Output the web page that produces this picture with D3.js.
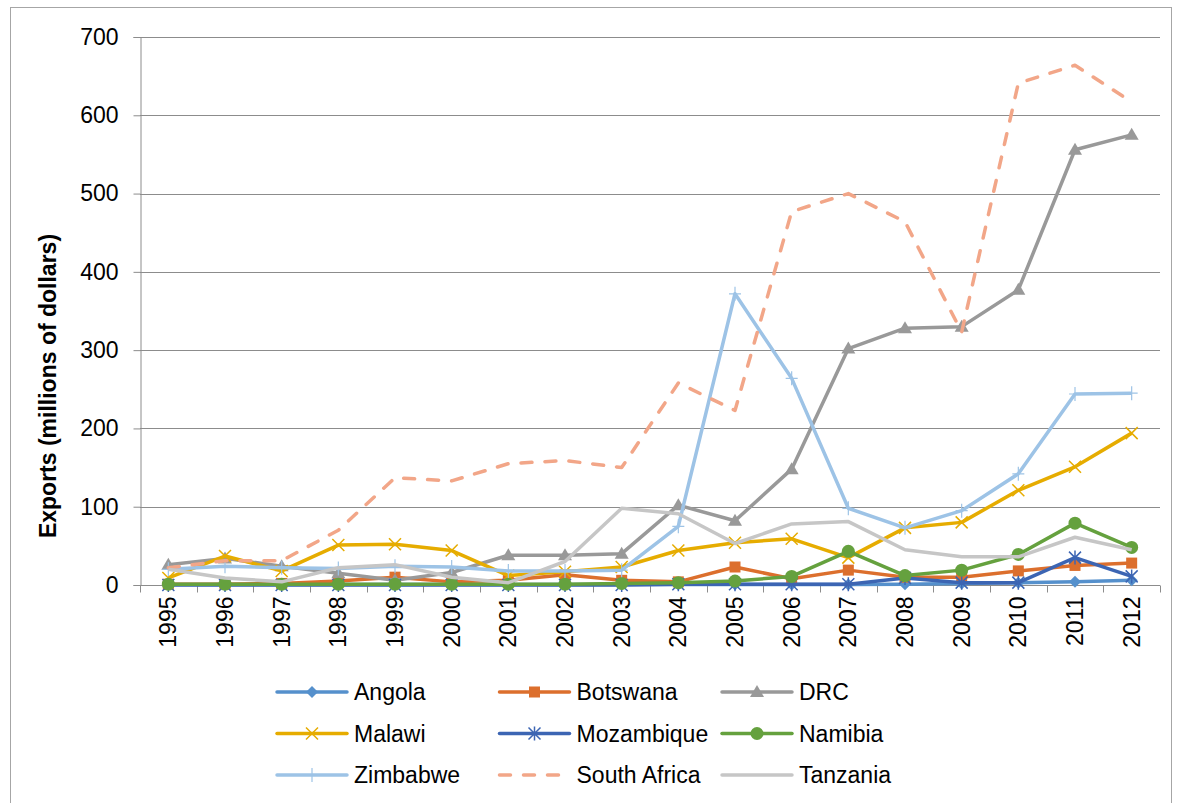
<!DOCTYPE html>
<html>
<head>
<meta charset="utf-8">
<script src="https://cdn.jsdelivr.net/npm/d3@7"></script>
<style>
  body { margin: 0; background: #fff; }
  text { font-family: "Liberation Sans", Arial, sans-serif; }
</style>
</head>
<body>
<div id="chart"></div>
<script>
// data
var years = ["1995","1996","1997","1998","1999","2000","2001","2002","2003",
             "2004","2005","2006","2007","2008","2009","2010","2011","2012"];
var yTicks = [0, 100, 200, 300, 400, 500, 600, 700];

var angola      = [0.5,0.5,0.5,0.5,0.5,0.5,0.5,0.5,0.5,0.5,0.5,0.5,0.5,1,2,3,4,6];
var botswana    = [1,1,2,5,10,4,6,13,6,4,23,8,19,10,10,18,25,28];
var drc         = [26,34,24,15,6,16,38,38,40,102,82,148,302,328,330,377,556,575];
var malawi      = [9,37,18,51,52,44,12,17,23,44,54,59,35,73,80,121,151,194];
var mozambique  = [0,0,0,0,0,0,0,0,0,1,1,1,1,9,3,3,35,11];
var namibia     = [1,1,1,1,1,1,1,1,2,3,5,11,43,12,19,39,79,48];
var zimbabwe    = [20,24,22,21,24,23,18,18,19,75,372,264,98,73,95,142,244,245];
var southAfrica = [22,31,31,70,137,133,155,159,150,258,223,477,500,464,323,641,664,617];
var tanzania    = [20,9,4,22,26,10,3,30,98,91,53,78,81,45,36,36,61,45];

var series = [
  {name: "Angola",       values: angola,      color: "#5590cc", marker: "diamond"},
  {name: "Botswana",     values: botswana,    color: "#dc6f2d", marker: "square"},
  {name: "DRC",          values: drc,         color: "#999999", marker: "triangle"},
  {name: "Malawi",       values: malawi,      color: "#e6ac00", marker: "x"},
  {name: "Mozambique",   values: mozambique,  color: "#3c65b3", marker: "star"},
  {name: "Namibia",      values: namibia,     color: "#65a13e", marker: "circle"},
  {name: "Zimbabwe",     values: zimbabwe,    color: "#9dc3e6", marker: "plus"},
  {name: "South Africa", values: southAfrica, color: "#f2a688", marker: "none", dash: true},
  {name: "Tanzania",     values: tanzania,    color: "#c6c6c6", marker: "none"}
];

// set the dimensions and margins of the graph
var W = 1182, H = 803;
var margin = {top: 37, right: 22, bottom: 218, left: 140},
    width = W - margin.left - margin.right,
    height = H - margin.top - margin.bottom;

var svg = d3.select("#chart")
  .append("svg")
    .attr("width", W)
    .attr("height", H);

// outer chart border
svg.append("rect")
    .attr("x", 10.5).attr("y", 7.5)
    .attr("width", 1161).attr("height", 820)
    .attr("fill", "none")
    .attr("stroke", "#a6a6a6");

var g = svg.append("g")
    .attr("transform", "translate(" + margin.left + "," + margin.top + ")");

var x = d3.scaleBand()
    .domain(years)
    .range([0, width]);

var y = d3.scaleLinear()
    .domain([0, 700])
    .range([height, 0]);

// gridlines
g.append("g")
  .selectAll("line")
  .data(yTicks.filter(function(d) { return d > 0; }))
  .enter()
  .append("line")
    .attr("x1", 0).attr("x2", width)
    .attr("y1", function(d) { return Math.round(y(d)) + 0.5; })
    .attr("y2", function(d) { return Math.round(y(d)) + 0.5; })
    .attr("stroke", "#8c8c8c")
    .attr("stroke-width", 1);

// Y axis
var yAxis = g.append("g")
    .attr("transform", "translate(0.5,0)")
    .call(d3.axisLeft(y).tickValues(yTicks).tickSize(7).tickPadding(15));
yAxis.select(".domain").attr("stroke", "#8c8c8c");
yAxis.selectAll(".tick line").attr("stroke", "#8c8c8c");
yAxis.selectAll(".tick text")
    .attr("font-size", "23px")
    .attr("font-family", "Liberation Sans, Arial, sans-serif")
    .attr("fill", "#000");

// X axis: ticks between categories
var xAxis = g.append("g")
    .attr("transform", "translate(0," + (Math.round(height) + 0.5) + ")");
xAxis.append("line")
    .attr("x1", 0).attr("x2", width)
    .attr("stroke", "#8c8c8c");
xAxis.selectAll(".xt")
  .data(d3.range(years.length + 1))
  .enter()
  .append("line")
    .attr("class", "xt")
    .attr("x1", function(i) { return Math.round(i * x.step()) + 0.5; })
    .attr("x2", function(i) { return Math.round(i * x.step()) + 0.5; })
    .attr("y1", 0).attr("y2", 7)
    .attr("stroke", "#8c8c8c");
xAxis.selectAll(".xl")
  .data(years)
  .enter()
  .append("text")
    .attr("class", "xl")
    .attr("transform", function(d) {
      return "translate(" + (x(d) + x.bandwidth() / 2 + 8) + ",11) rotate(-90)";
    })
    .attr("text-anchor", "end")
    .attr("font-size", "23px")
    .text(function(d) { return d; });

// lines and markers
var line = d3.line()
    .x(function(d, i) { return x(years[i]) + x.bandwidth() / 2; })
    .y(function(d) { return y(d); });

function drawMarker(sel, type, color) {
  if (type === "diamond") {
    sel.append("path").attr("d", "M0,-6L6,0L0,6L-6,0Z").attr("fill", color);
  } else if (type === "square") {
    sel.append("rect").attr("x", -5.5).attr("y", -5.5).attr("width", 11).attr("height", 11).attr("fill", color);
  } else if (type === "triangle") {
    sel.append("path").attr("d", "M0,-7L7,5L-7,5Z").attr("fill", color);
  } else if (type === "circle") {
    sel.append("circle").attr("r", 6.5).attr("fill", color);
  } else if (type === "x") {
    sel.append("path").attr("d", "M-6,-6L6,6M6,-6L-6,6").attr("stroke", color).attr("stroke-width", 1.5);
  } else if (type === "star") {
    sel.append("path").attr("d", "M-6,-6L6,6M6,-6L-6,6M0,-7L0,7").attr("stroke", color).attr("stroke-width", 1.5);
  } else if (type === "plus") {
    sel.append("path").attr("d", "M-6,0L6,0M0,-7L0,7").attr("stroke", color).attr("stroke-width", 1.2);
  }
}

series.forEach(function(s) {
  var path = g.append("path")
      .datum(s.values)
      .attr("fill", "none")
      .attr("stroke", s.color)
      .attr("stroke-width", 3.5)
      .attr("stroke-linejoin", "round")
      .attr("d", line);
  if (s.dash) {
    path.attr("stroke-dasharray", "11,13").attr("stroke-linecap", "round");
  }
  if (s.marker !== "none") {
    g.append("g")
      .selectAll("g")
      .data(s.values)
      .enter()
      .append("g")
        .attr("transform", function(d, i) {
          return "translate(" + (x(years[i]) + x.bandwidth() / 2) + "," + y(d) + ")";
        })
        .each(function() { drawMarker(d3.select(this), s.marker, s.color); });
  }
});

// Y axis label
svg.append("text")
    .attr("transform", "translate(56,386) rotate(-90)")
    .attr("text-anchor", "middle")
    .attr("font-size", "23px")
    .attr("font-weight", "bold")
    .text("Exports (millions of dollars)");

// legend, 3 columns
var legend = svg.append("g");
series.forEach(function(s, i) {
  var col = i % 3, row = Math.floor(i / 3);
  var lx = 277 + col * 222.5, ly = 692 + row * 41.5;
  var item = legend.append("g").attr("transform", "translate(" + lx + "," + ly + ")");
  var l = item.append("line")
      .attr("x1", 0).attr("x2", 70)
      .attr("stroke", s.color)
      .attr("stroke-width", 3.5)
      .attr("stroke-linecap", "round");
  if (s.dash) l.attr("stroke-dasharray", "11,13");
  var m = item.append("g").attr("transform", "translate(35,0)");
  drawMarker(m, s.marker, s.color);
  item.append("text")
      .attr("x", 77)
      .attr("y", 8)
      .attr("font-size", "23px")
      .text(s.name);
});
</script>
</body>
</html>
